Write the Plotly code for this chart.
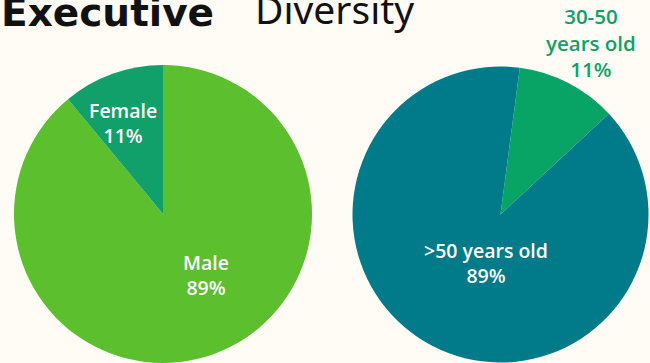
import plotly.graph_objects as go

# Data
gender_labels = ["Male", "Female"]
gender_values = [89, 11]
gender_colors = ["#5BBF2E", "#12A06A"]

age_labels = ["30-50<br>years old", ">50 years old"]
age_values = [11, 89]
age_colors = ["#07A466", "#017B8A"]

title_bold = "Executive"
title_regular = "Diversity"

W, H = 650, 363
BG = "#FEFCF5"


def px_x(x):
    return x / W


def px_y(y):
    return 1 - y / H


fig = go.Figure()

fig.add_trace(go.Pie(
    labels=gender_labels, values=gender_values,
    marker=dict(colors=gender_colors, line=dict(width=0)),
    sort=False, direction="clockwise", rotation=0,
    textinfo="none", hoverinfo="label+percent", showlegend=False,
    domain=dict(x=[px_x(13), px_x(313)], y=[px_y(363), px_y(65)]),
))

fig.add_trace(go.Pie(
    labels=age_labels, values=age_values,
    marker=dict(colors=age_colors, line=dict(width=0)),
    sort=False, direction="clockwise", rotation=7.5,
    textinfo="none", hoverinfo="label+percent", showlegend=False,
    domain=dict(x=[px_x(352.5), px_x(648.5)], y=[px_y(363), px_y(66)]),
))

# slice labels: centre positions in pixels
gender_pos = [(206, 275), (123, 123)]
age_pos = [(591, 43), (486, 263)]
age_text_colors = ["#10A06A", "white"]

annotations = []
for lab, val, (x, y) in zip(gender_labels, gender_values, gender_pos):
    annotations.append(dict(
        text=f"{lab}<br>{val}%", x=px_x(x), y=px_y(y), xref="paper", yref="paper",
        xanchor="center", yanchor="middle", showarrow=False,
        font=dict(family="Open Sans", size=19.5, color="white", weight=600),
        align="center",
    ))
for lab, val, (x, y), col in zip(age_labels, age_values, age_pos, age_text_colors):
    annotations.append(dict(
        text=f"{lab}<br>{val}%", x=px_x(x), y=px_y(y), xref="paper", yref="paper",
        xanchor="center", yanchor="middle", showarrow=False,
        font=dict(family="Open Sans", size=19.5 if col == "white" else 20.5,
                  color=col, weight=600),
        align="center",
    ))

# heading, partly above the top edge
annotations.append(dict(
    text=title_bold, x=px_x(-1), y=px_y(37), xref="paper", yref="paper",
    xanchor="left", yanchor="bottom", showarrow=False,
    font=dict(family="DejaVu Sans", size=39, color="#111111", weight="bold"),
))
annotations.append(dict(
    text=title_regular, x=px_x(253), y=px_y(37), xref="paper", yref="paper",
    xanchor="left", yanchor="bottom", showarrow=False,
    font=dict(family="Noto Sans", size=39, color="#111111"),
))

fig.update_layout(
    width=W, height=H,
    margin=dict(l=0, r=0, t=0, b=0),
    paper_bgcolor=BG, plot_bgcolor=BG,
    annotations=annotations,
)

fig.write_html("out.html")
